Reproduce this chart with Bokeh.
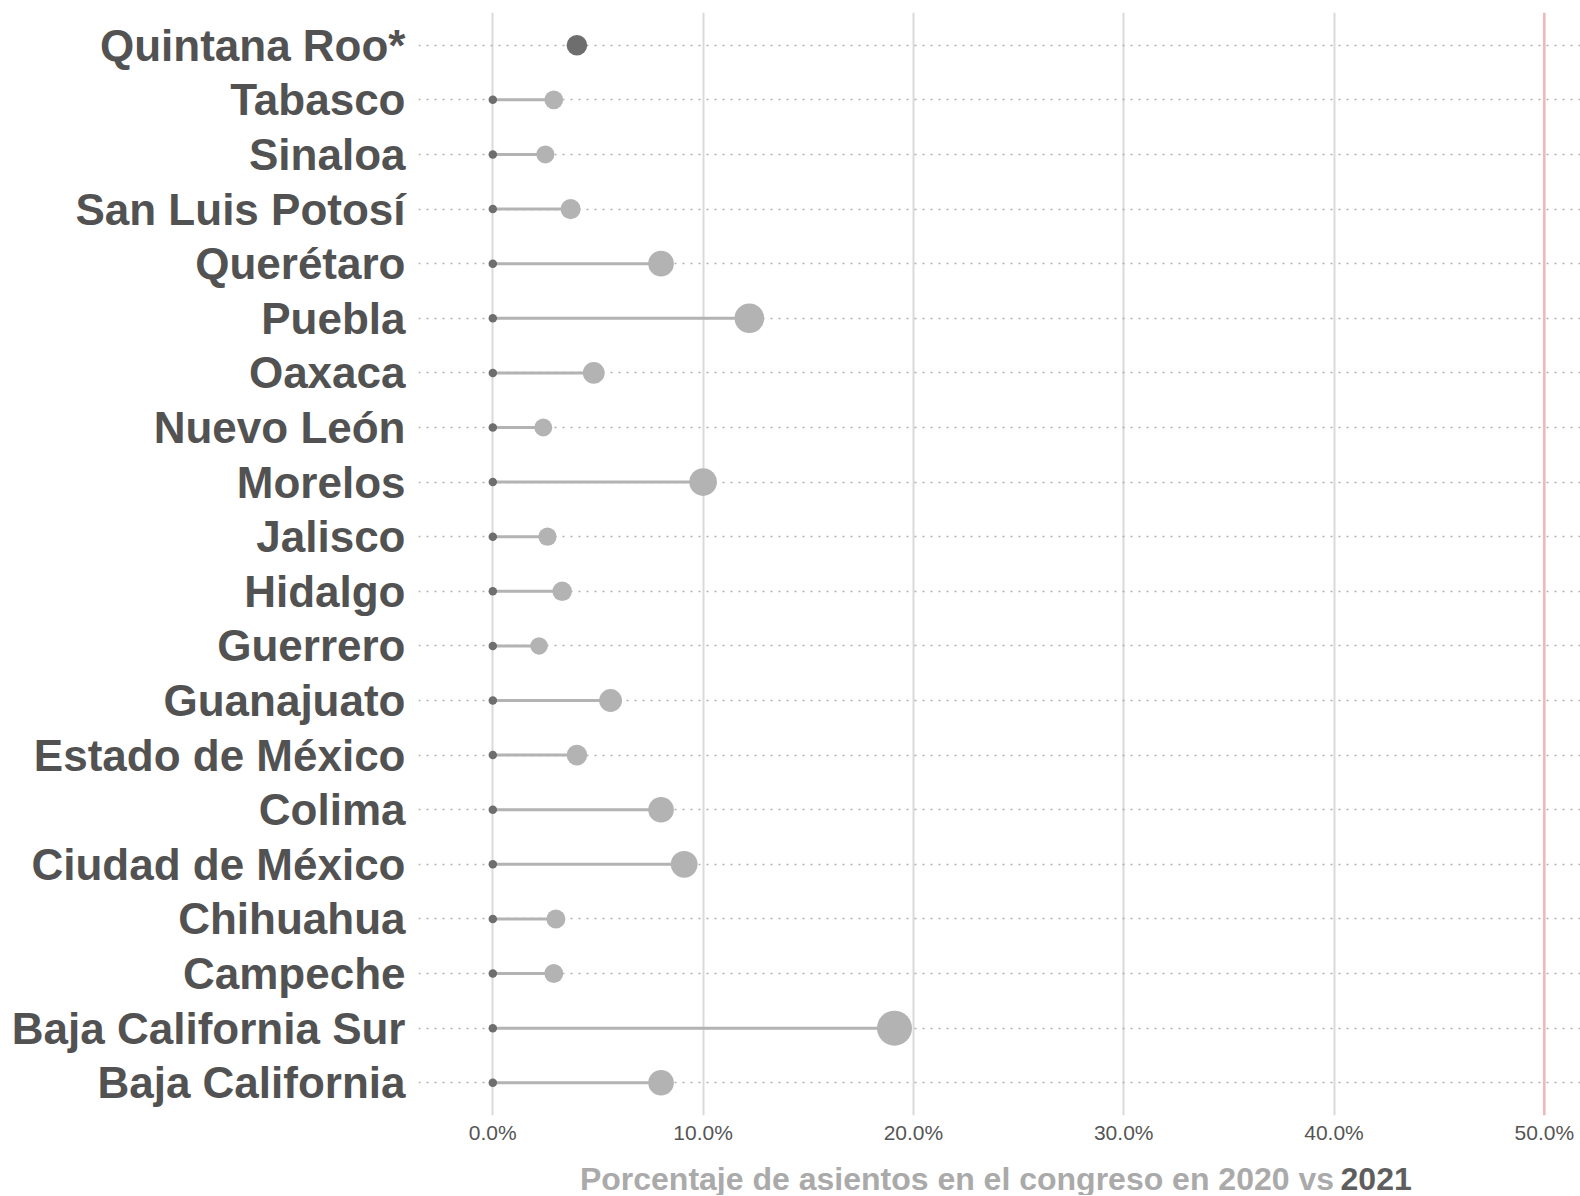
import math
from bokeh.plotting import figure
from bokeh.layouts import column
from bokeh.models import (FactorRange, Range1d, FixedTicker, PrintfTickFormatter,
                          Span, Label, ColumnDataSource)
from bokeh.embed import file_html
from bokeh.resources import INLINE

# ---------------- data ----------------
states = ["Quintana Roo*", "Tabasco", "Sinaloa", "San Luis Potosí", "Querétaro",
          "Puebla", "Oaxaca", "Nuevo León", "Morelos", "Jalisco", "Hidalgo",
          "Guerrero", "Guanajuato", "Estado de México", "Colima",
          "Ciudad de México", "Chihuahua", "Campeche", "Baja California Sur",
          "Baja California"]
pct_2020 = [4.0, 0.0, 0.0, 0.0, 0.0, 0.0, 0.0, 0.0, 0.0, 0.0, 0.0,
            0.0, 0.0, 0.0, 0.0, 0.0, 0.0, 0.0, 0.0, 0.0]
pct_2021 = [float("nan"), 2.9, 2.5, 3.7, 8.0, 12.2, 4.8, 2.4, 10.0, 2.6, 3.3,
            2.2, 5.6, 4.0, 8.0, 9.1, 3.0, 2.9, 19.1, 8.0]
x_ticks = [0, 10, 20, 30, 40, 50]
majority = 50
axis_title = "Porcentaje de asientos en el congreso en 2020 vs"
axis_title_bold = "2021"

# ---------------- styling helpers ----------------
FONT = "Liberation Sans"
DARK = "#6e6e6e"
LIGHT = "#b3b3b3"
W = 1580
LEFT = 418
vmax = max(v for v in pct_2020 + pct_2021 if not math.isnan(v))


def dot_size(v):
    if math.isnan(v):
        return 0
    return 8.5 + 26.5 * math.sqrt(v / vmax)


src = ColumnDataSource(dict(
    state=states,
    x0=pct_2020,
    x1=pct_2021,
    s0=[dot_size(v) for v in pct_2020],
    s1=[dot_size(v) for v in pct_2021],
))

xr = Range1d(-3.533, 51.72)

p = figure(
    width=W, height=1155,
    y_range=FactorRange(factors=list(reversed(states)), range_padding=0.1,
                        range_padding_units="absolute"),
    x_range=xr,
    output_backend="svg", toolbar_location=None,
    min_border_left=LEFT, min_border_right=0, min_border_top=12, min_border_bottom=40,
)
p.outline_line_color = None
p.background_fill_color = "white"
p.border_fill_color = "white"

# grids
p.xgrid.ticker = FixedTicker(ticks=[t for t in x_ticks if t != majority])
p.xgrid.grid_line_color = "#dadada"
p.xgrid.grid_line_width = 2
p.ygrid.grid_line_color = "#b0b0b0"
p.ygrid.grid_line_dash = "2 6"
p.ygrid.grid_line_width = 1.5

p.add_layout(Span(location=majority, dimension="height", line_color="#f3b4b4",
                  line_width=2.5, level="underlay"))

# axes
p.xaxis.ticker = FixedTicker(ticks=x_ticks)
p.xaxis.formatter = PrintfTickFormatter(format="%.1f%%")
p.xaxis.axis_line_color = None
p.xaxis.major_tick_line_color = None
p.xaxis.minor_tick_line_color = None
p.xaxis.major_tick_out = 0
p.xaxis.major_label_standoff = 5
p.xaxis.major_label_text_font = FONT
p.xaxis.major_label_text_font_size = "21px"
p.xaxis.major_label_text_color = "#555555"

p.yaxis.axis_line_color = None
p.yaxis.major_tick_line_color = None
p.yaxis.major_tick_out = 0
p.yaxis.major_label_standoff = 13
p.yaxis.major_label_text_font = FONT
p.yaxis.major_label_text_font_size = "44px"
p.yaxis.major_label_text_font_style = "bold"
p.yaxis.major_label_text_color = "#525252"

# marks
p.segment(x0="x0", y0="state", x1="x1", y1="state", source=src,
          line_color=LIGHT, line_width=3)
p.scatter(x="x1", y="state", size="s1", source=src,
          fill_color=LIGHT, line_color=None)
p.scatter(x="x0", y="state", size="s0", source=src,
          fill_color=DARK, line_color=None)

# axis title strip (two colours), sharing the x scale
TH = 40
t = figure(
    width=W, height=TH, x_range=xr, y_range=Range1d(0, TH),
    output_backend="svg", toolbar_location=None,
    x_axis_location=None, y_axis_location=None,
    min_border_left=LEFT, min_border_right=0, min_border_top=0, min_border_bottom=0,
)
t.outline_line_color = None
t.grid.visible = False
t.background_fill_color = "white"
t.border_fill_color = "white"
t.add_layout(Label(x=40.0, y=17, text=axis_title, text_align="right",
                   text_baseline="middle", text_font=FONT, text_font_size="32px",
                   text_font_style="bold", text_color="#aaaaaa"))
t.add_layout(Label(x=40.31, y=17, text=axis_title_bold, text_align="left",
                   text_baseline="middle", text_font=FONT, text_font_size="32px",
                   text_font_style="bold", text_color="#5e5e5e"))

layout = column(p, t, spacing=0)
open("out.html", "w").write(file_html(layout, INLINE))
